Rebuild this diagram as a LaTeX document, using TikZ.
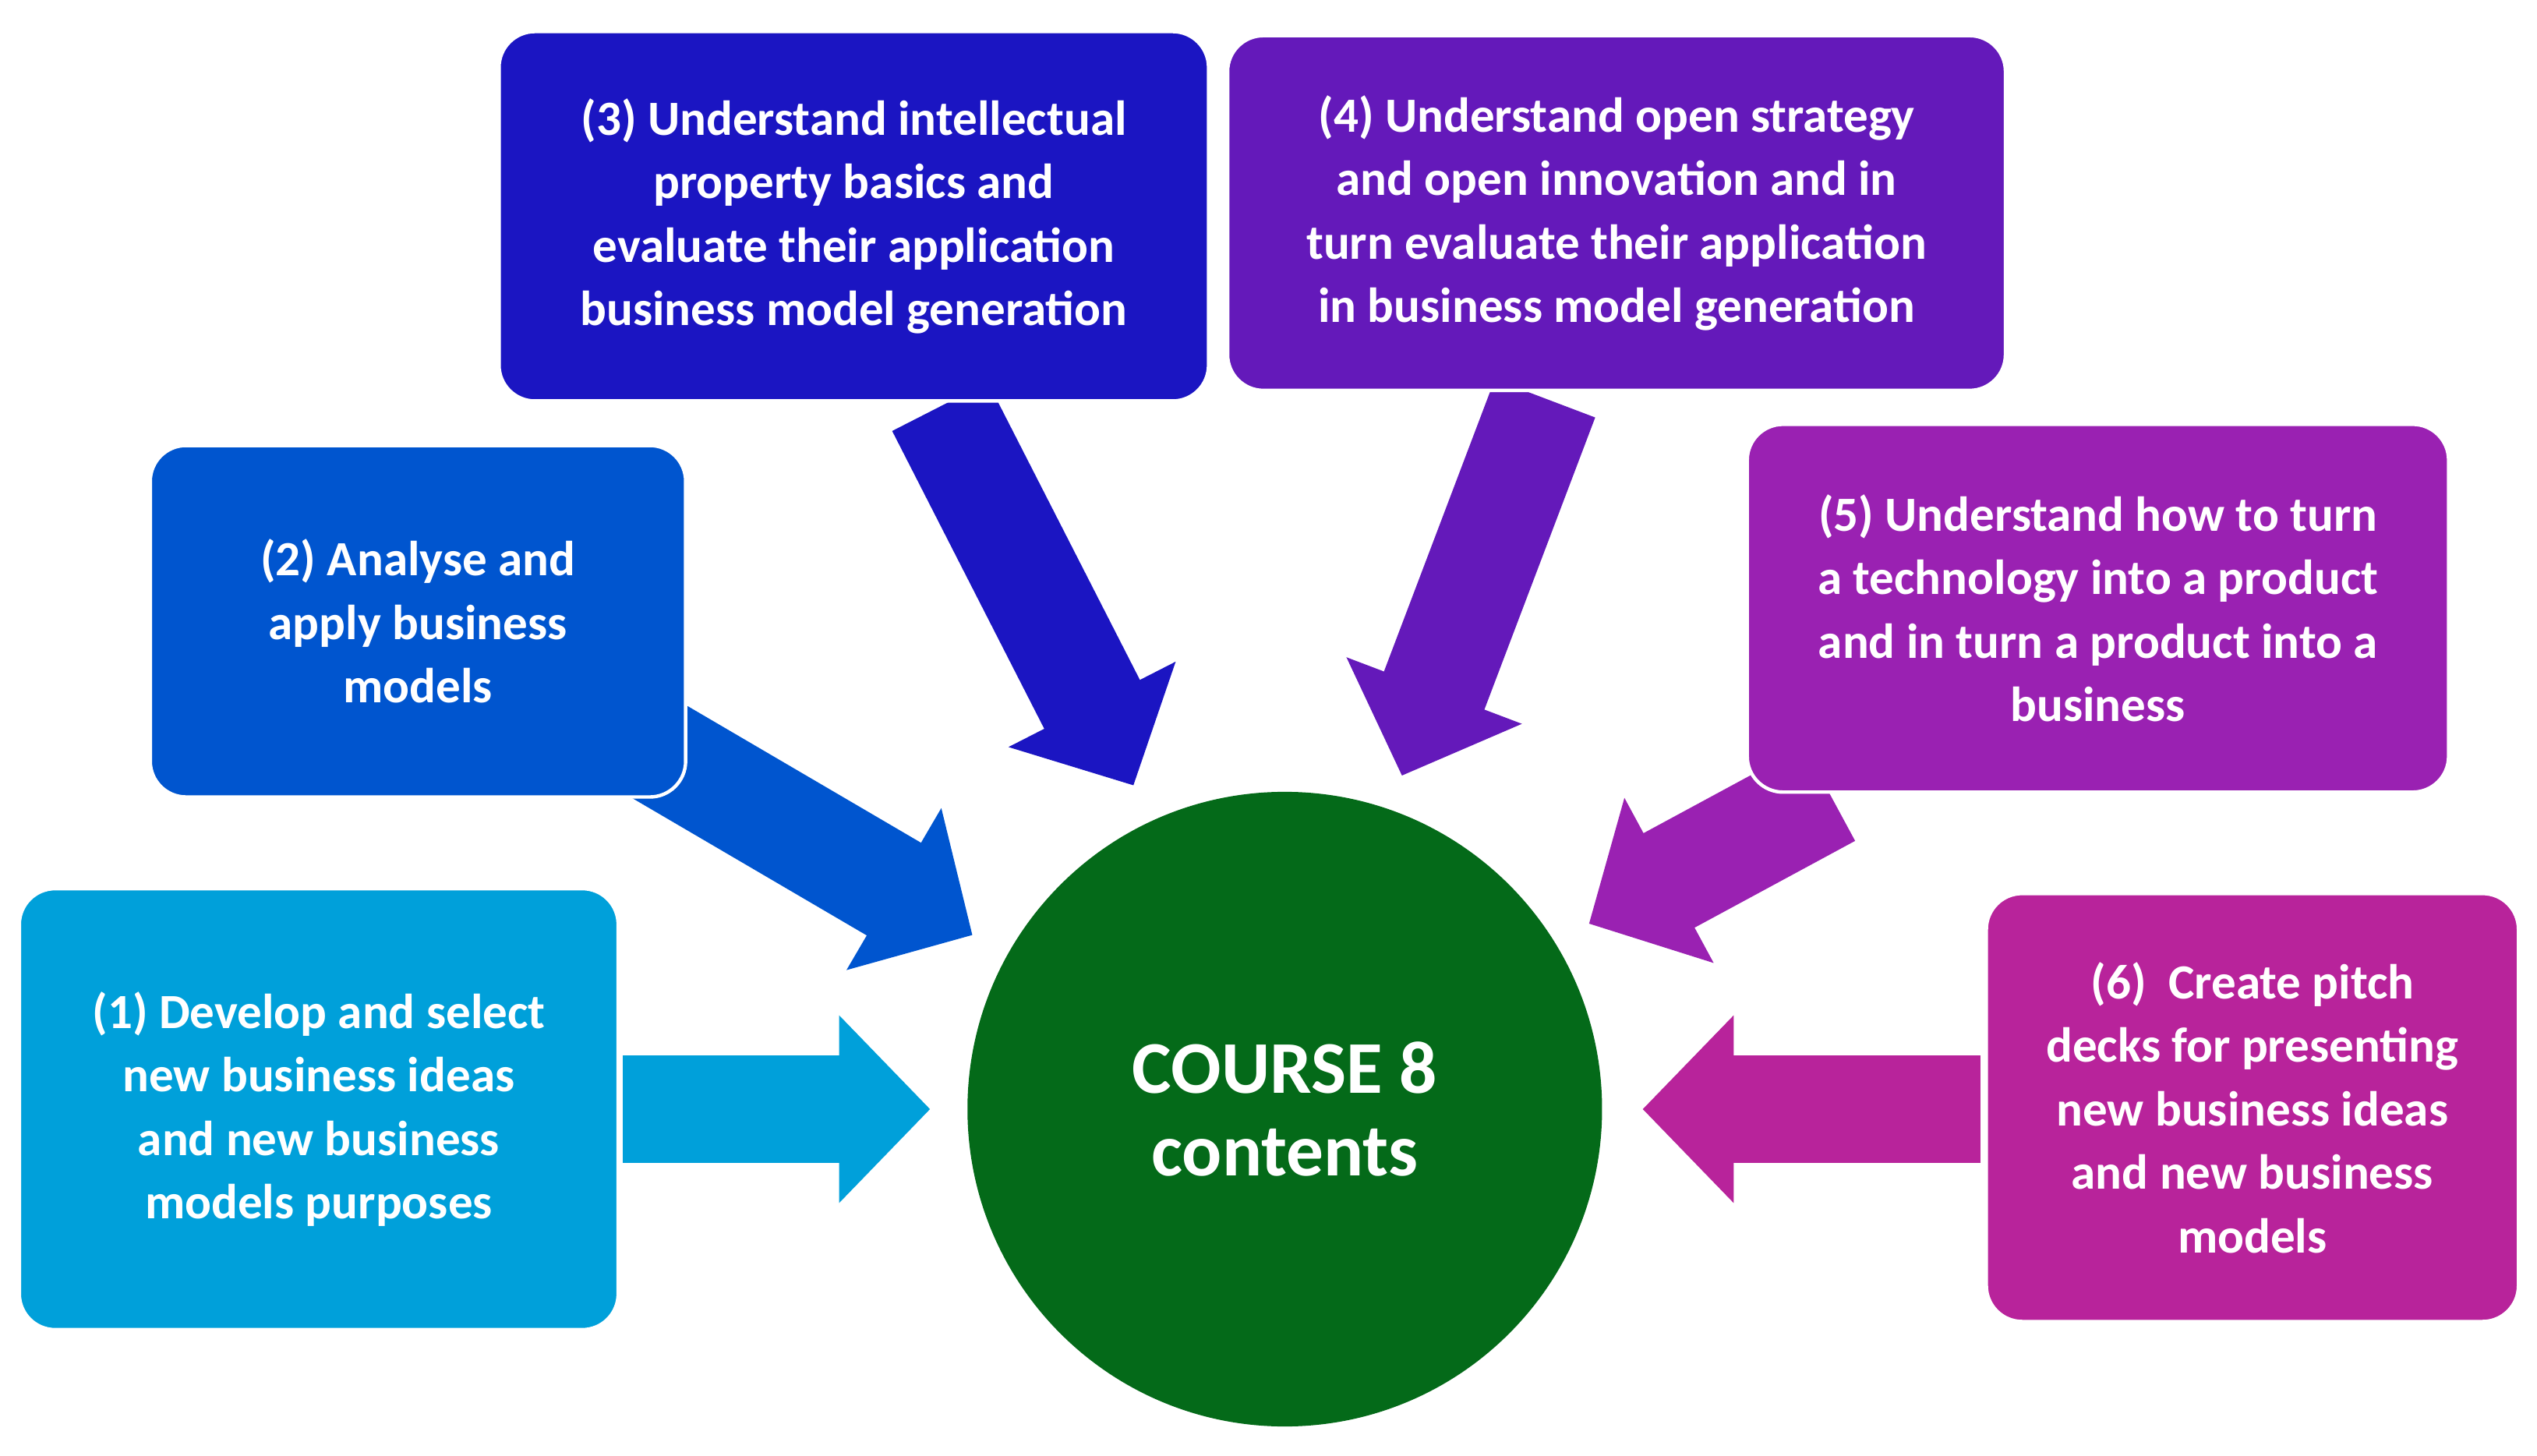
\documentclass[tikz,border=0pt]{standalone}
\usepackage{fontspec}
\setmainfont{Carlito}
\usetikzlibrary{arrows.meta,positioning}
\definecolor{cOne}{HTML}{00A0DA}
\definecolor{cTwo}{HTML}{0055CF}
\definecolor{cThree}{HTML}{1B15C2}
\definecolor{cFour}{HTML}{6419BA}
\definecolor{cFive}{HTML}{9A21B2}
\definecolor{cSix}{HTML}{B8239B}
\definecolor{cCore}{HTML}{046A19}
\begin{document}
\begin{tikzpicture}[x=0.01cm,y=-0.01cm,
	boxnode/.style={rectangle,rounded corners=0.22cm,draw=white,line width=0.6pt,text=white,align=center,inner sep=2pt,font=\fontsize{8.6}{11.1}\selectfont\bfseries},
	bigarrow/.style={line width=0.66cm,-{Triangle[width=1.12cm,length=0.56cm]}}]
	\useasboundingbox (0,0) rectangle (1560,895);

	\node [circle,fill=cCore,minimum size=3.9cm,text=white,align=center,font=\fontsize{13}{14.5}\selectfont\bfseries] (core) at (790,682) {COURSE 8\\contents};

	\coordinate (s1) at (383,682);  \coordinate (t1) at (572,682);
	\coordinate (s2) at (405,462);  \coordinate (t2) at (598,575);
	\coordinate (s3) at (578,250);  \coordinate (t3) at (697,483);
	\coordinate (s4) at (950,245);  \coordinate (t4) at (862,477);
	\coordinate (s5) at (1125,488); \coordinate (t5) at (977,568);
	\coordinate (s6) at (1218,682); \coordinate (t6) at (1010,682);

	\draw [bigarrow,cOne] (s1) to (t1);
	\draw [bigarrow,cTwo] (s2) to (t2);
	\draw [bigarrow,cThree] (s3) to (t3);
	\draw [bigarrow,cFour] (s4) to (t4);
	\draw [bigarrow,cFive] (s5) to (t5);
	\draw [bigarrow,cSix] (s6) to (t6);

	\node [boxnode,fill=cOne,minimum width=3.68cm,minimum height=2.71cm] (b1) at (196,682) {(1) Develop and select\\new business ideas\\and new business\\models purposes};
	\node [boxnode,fill=cTwo,minimum width=3.29cm,minimum height=2.16cm] (b2) at (257,382) {(2) Analyse and\\apply business\\models};
	\node [boxnode,fill=cThree,minimum width=4.36cm,minimum height=2.27cm] (b3) at (525,133) {(3) Understand intellectual\\property basics and\\evaluate their application\\business model generation};
	\node [boxnode,fill=cFour,minimum width=4.78cm,minimum height=2.18cm] (b4) at (994,131) {(4) Understand open strategy\\and open innovation and in\\turn evaluate their application\\in business model generation};
	\node [boxnode,fill=cFive,minimum width=4.31cm,minimum height=2.26cm] (b5) at (1290,374) {(5) Understand how to turn\\a technology into a product\\and in turn a product into a\\business};
	\node [boxnode,fill=cSix,minimum width=3.27cm,minimum height=2.63cm] (b6) at (1385,681) {(6)\ \ Create pitch\\decks for presenting\\new business ideas\\and new business\\models};

\end{tikzpicture}
\end{document}
